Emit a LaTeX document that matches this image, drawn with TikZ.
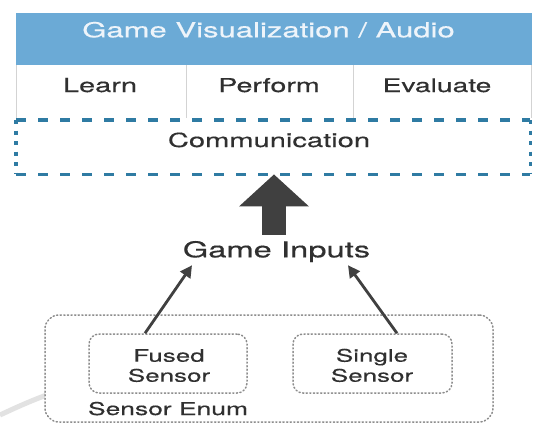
\documentclass[tikz,border=0pt]{standalone}
\usepackage{fontspec}
\newfontfamily\hv[FakeStretch=1.5,FakeBold=0.4]{TeX Gyre Heros}
\usetikzlibrary{calc,arrows.meta}
\definecolor{hdrblue}{HTML}{6BAAD6}
\definecolor{hdrtext}{HTML}{EEF4FA}
\definecolor{dashblue}{HTML}{2F7BA3}
\definecolor{txtgray}{HTML}{303030}
\definecolor{cellline}{HTML}{D3D3D3}
\definecolor{dotgray}{HTML}{8C8C8C}
\definecolor{arrowgray}{HTML}{404040}
\definecolor{wmgray}{HTML}{E2E2E2}
\begin{document}
\begin{tikzpicture}[x=1pt,y=-1pt,
  txt/.style={font=\hv\fontsize{#1}{20}\selectfont, text=txtgray, inner sep=0pt, anchor=base, align=center},
  box/.style={inner sep=0pt, minimum width=#1},
  dotbox/.style={draw=dotgray, line width=1.5pt, dash pattern=on 1.2pt off 2.4pt, line cap=round, rounded corners=10pt, fill=white, inner sep=0pt},
  cellsep/.style={draw=cellline, line width=0.9pt},
  hdash/.style={draw=dashblue, line width=3.5pt, dash pattern=on 10pt off 12pt},
  vdash/.style={draw=dashblue, line width=3.5pt, dash pattern=on 4pt off 6.5pt},
  thinarrow/.style={draw=arrowgray, line width=2.8pt, -{Triangle[length=12pt,width=12pt]}},
  bigarrow/.style={draw=arrowgray, line width=24pt, -{Triangle[length=32pt,width=68pt]}}
]
\useasboundingbox (0,0) rectangle (533,426);
\fill[white] (0,0) rectangle (533,426);

% watermark arc
\draw[wmgray, line width=5pt] (0,415) .. controls (15,408) and (30,401) .. (52,393);

% header
\node[box=516pt, minimum height=52pt, fill=hdrblue, anchor=north west] (hdr) at (16,13) {};
\node[txt=20.7, text=hdrtext] (hdrtxt) at (268.5,37.3) {Game Visualization / Audio};

% cells
\node[box=170pt, minimum height=53pt, anchor=north west] (learn) at (16,65) {};
\node[box=167pt, minimum height=53pt, anchor=north west] (perform) at (186,65) {};
\node[box=178pt, minimum height=53pt, anchor=north west] (evaluate) at (353,65) {};
\draw[cellsep] (learn.north west) -- (learn.south west);
\draw[cellsep] (perform.north west) -- (perform.south west);
\draw[cellsep] (evaluate.north west) -- (evaluate.south west);
\draw[cellsep] (evaluate.north east) -- (evaluate.south east);
\node[txt=19.3] (learntxt) at (100,92) {Learn};
\node[txt=19.1] (performtxt) at (269,92) {Perform};
\node[txt=18.8] (evaluatetxt) at (437,92) {Evaluate};

% communication
\node[box=514pt, minimum height=54pt, anchor=north west] (comm) at (16,120) {};
\draw[hdash] (comm.north west) -- (comm.north east);
\draw[hdash] (comm.south west) -- (comm.south east);
\draw[vdash] (comm.north west) -- (comm.south west);
\draw[vdash] (comm.north east) -- (comm.south east);
\node[txt=19.4] (commtxt) at (269,147) {Communication};

% game inputs
\node[txt=21.8] (gi) at (276.5,257.3) {Game Inputs};
\coordinate (bigstart) at ($(gi.north)+(-2.5,-6)$);
\draw[bigarrow] (bigstart) -- (bigstart |- comm.south);

% sensor enum
\node[dotbox, rounded corners=14pt, minimum width=448pt, minimum height=107pt] (enum) at (269,368.5) {};
\node[dotbox, minimum width=158pt, minimum height=59pt] (fused) at (168,363.5) {};
\node[dotbox, minimum width=159pt, minimum height=59pt] (single) at (372.5,363.5) {};
\node[txt=17.3] (fusedtxt) at (169,381.7) {Fused\\Sensor};
\node[txt=17.3] (singletxt) at (372,381.7) {Single\\Sensor};
\node[txt=17.6] (enumtxt) at (168,415) {Sensor Enum};

\draw[thinarrow] ($(fused.north)+(-23,0)$) -- ($(gi.south)+(-84.5,3)$);
\draw[thinarrow] ($(single.north)+(24.5,0)$) -- ($(gi.south)+(71.5,3)$);
\end{tikzpicture}
\end{document}
